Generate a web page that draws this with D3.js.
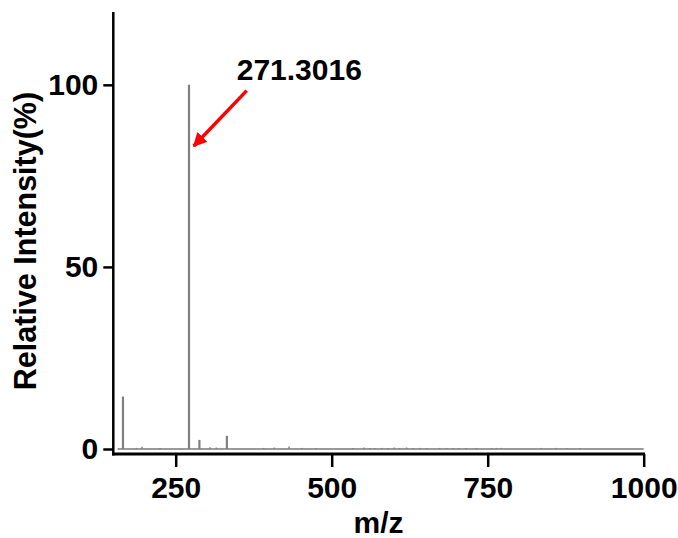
<!DOCTYPE html>
<html>
<head>
<meta charset="utf-8">
<script src="https://cdn.jsdelivr.net/npm/d3@7"></script>
<style>
  body { margin: 0; background: #fff; }
  text { font-family: "Liberation Sans", Arial, sans-serif; font-weight: bold; }
</style>
</head>
<body>
<div id="chart"></div>
<script>
// peaks of the spectrum (m/z, relative intensity %)
var peakMz = [165.5, 187, 196, 225, 271.3, 288, 305, 315, 332,
              391, 408, 431.6, 452, 475, 534, 552, 561, 569, 580, 590, 600, 609, 620, 630, 641, 652,
              673, 684, 694, 704, 715, 732, 756, 764, 772, 836, 860, 877, 898]
var peakInt = [14.4, 0.3, 0.6, 0.3, 100, 2.5, 0.5, 0.4, 3.6,
               0.3, 0.4, 0.7, 0.3, 0.3, 0.3, 0.4, 0.3, 0.3, 0.3, 0.3, 0.4, 0.3, 0.4, 0.3, 0.3, 0.3,
               0.3, 0.3, 0.3, 0.3, 0.3, 0.3, 0.3, 0.3, 0.3, 0.3, 0.3, 0.3, 0.3]
var xTicks = [250, 500, 750, 1000]
var yTicks = [0, 50, 100]
var baseRange = [157, 1000]
var labelText = "271.3016"
var labelPos = [347.8, 101.4]   // m/z, intensity
var arrowFrom = [363.8, 98.4]
var arrowTo = [279, 83.2]

var width = 678, height = 538
var svg = d3.select("#chart").append("svg")
            .attr("width", width)
            .attr("height", height)

var x = d3.scaleLinear().domain([150, 1000]).range([113.3, 643.7])
var y = d3.scaleLinear().domain([0, 120]).range([449, 12])
var xAxisY = y(0) + 5

// baseline of the spectrum
svg.append("line")
   .attr("x1", x(baseRange[0])).attr("x2", x(baseRange[1]))
   .attr("y1", y(0)).attr("y2", y(0))
   .attr("stroke", "#999").attr("stroke-width", 2)

// sticks
svg.selectAll(".peak")
   .data(peakMz)
   .enter().append("line")
   .attr("class", "peak")
   .attr("x1", d => x(d)).attr("x2", d => x(d))
   .attr("y1", y(0))
   .attr("y2", (d, i) => y(peakInt[i]))
   .attr("stroke", "#808080")
   .attr("stroke-width", (d, i) => peakInt[i] > 1 ? 2.2 : 1.5)

// x axis
var xAxis = svg.append("g")
   .attr("transform", "translate(0," + xAxisY + ")")
   .call(d3.axisBottom(x).tickValues(xTicks).tickFormat(d3.format("d"))
           .tickSize(13).tickSizeOuter(0).tickPadding(10))
xAxis.select(".domain").remove()
xAxis.selectAll(".tick line").attr("stroke", "#000").attr("stroke-width", 2.5)
xAxis.selectAll(".tick text").attr("font-size", 30).attr("fill", "#000")
   .attr("font-family", "Liberation Sans, Arial, sans-serif")
svg.append("line")
   .attr("x1", x(150) - 1).attr("x2", x(1000) + 1.25)
   .attr("y1", xAxisY).attr("y2", xAxisY)
   .attr("stroke", "#000").attr("stroke-width", 3)

// y axis
var yAxis = svg.append("g")
   .attr("transform", "translate(" + x(150) + ",0)")
   .call(d3.axisLeft(y).tickValues(yTicks).tickSize(10).tickSizeOuter(0).tickPadding(5))
yAxis.select(".domain").remove()
yAxis.selectAll(".tick line").attr("stroke", "#000").attr("stroke-width", 2.5)
yAxis.selectAll(".tick text").attr("font-size", 30).attr("fill", "#000")
   .attr("font-family", "Liberation Sans, Arial, sans-serif")
svg.append("line")
   .attr("x1", x(150)).attr("x2", x(150))
   .attr("y1", y(120)).attr("y2", xAxisY + 1.5)
   .attr("stroke", "#000").attr("stroke-width", 2.5)

// axis titles
svg.append("text")
   .attr("x", x(575)).attr("y", 533)
   .attr("text-anchor", "middle")
   .attr("font-size", 30)
   .text("m/z")
svg.append("text")
   .attr("transform", "translate(36," + 241 + ") rotate(-90)")
   .attr("text-anchor", "middle")
   .attr("font-size", 30.5)
   .text("Relative Intensity(%)")

// annotation
svg.append("defs").append("marker")
   .attr("id", "head")
   .attr("viewBox", "0 0 10 10")
   .attr("refX", 9).attr("refY", 5)
   .attr("markerWidth", 4).attr("markerHeight", 4)
   .attr("orient", "auto")
   .append("path").attr("d", "M0,0L10,5L0,10z").attr("fill", "#ff0000")
svg.append("line")
   .attr("x1", x(arrowFrom[0])).attr("y1", y(arrowFrom[1]))
   .attr("x2", x(arrowTo[0])).attr("y2", y(arrowTo[1]))
   .attr("stroke", "#ff0000").attr("stroke-width", 3.5)
   .attr("marker-end", "url(#head)")
svg.append("text")
   .attr("x", x(labelPos[0])).attr("y", y(labelPos[1]))
   .attr("font-size", 30)
   .text(labelText)
</script>
</body>
</html>
